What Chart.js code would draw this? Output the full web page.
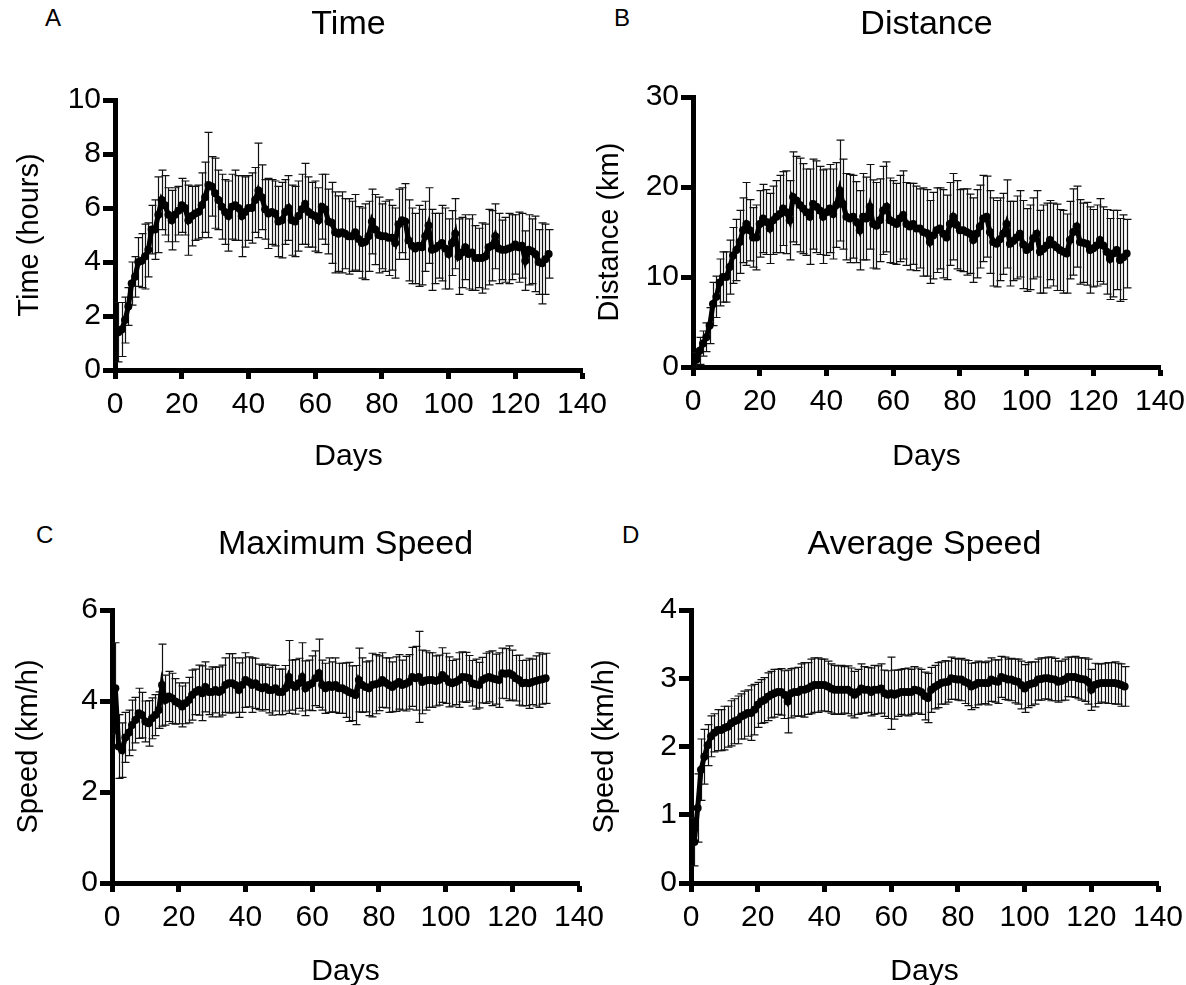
<!DOCTYPE html>
<html>
<head>
<meta charset="utf-8">
<script src="https://cdn.jsdelivr.net/npm/chart.js@4.4.1/dist/chart.umd.min.js"></script>
<style>
  html, body { margin: 0; padding: 0; background: #fff; overflow: hidden; }
  body { width: 1186px; height: 985px; position: relative; font-family: 'Liberation Sans', Arial, sans-serif; }
  canvas { position: absolute; }
  .letter { position: absolute; font-size: 24px; line-height: 1; color: #000; }
</style>
</head>
<body>
<div class="letter" style="left:45px;top:6px">A</div>
<div class="letter" style="left:614px;top:6px">B</div>
<div class="letter" style="left:36px;top:523px">C</div>
<div class="letter" style="left:622px;top:523px">D</div>
<canvas id="chartA" width="622" height="490" style="left:0;top:0"></canvas>
<canvas id="chartB" width="620" height="490" style="left:580px;top:0"></canvas>
<canvas id="chartC" width="622" height="500" style="left:0;top:500px"></canvas>
<canvas id="chartD" width="620" height="500" style="left:580px;top:500px"></canvas>
<script>
// daily means and SDs, days 1..130
const timeMean = [
  1.4,1.5,1.85,2.35,3.2,3.45,4.0,4.05,4.2,4.45,
  5.2,5.2,5.75,6.3,6.1,5.75,5.55,5.75,5.9,6.1,
  6.0,5.55,5.7,5.8,5.85,6.1,6.4,6.85,6.8,6.55,
  6.3,6.05,5.85,5.7,6.05,6.1,6.0,5.7,5.85,6.0,
  6.0,6.3,6.65,6.4,5.95,5.8,5.85,5.8,5.5,5.55,
  5.85,6.0,5.55,5.5,5.7,5.95,6.15,5.85,5.75,5.7,
  5.55,6.05,5.95,5.5,5.45,5.1,5.05,5.1,5.05,4.95,
  4.95,5.1,4.85,4.7,4.75,4.95,5.5,5.2,5.0,4.95,
  4.95,4.9,4.9,4.7,5.4,5.55,5.5,4.8,4.6,4.5,
  4.6,4.55,4.95,5.35,4.45,4.5,4.6,4.7,4.5,4.3,
  4.7,5.05,4.2,4.35,4.55,4.3,4.35,4.15,4.15,4.15,
  4.2,4.55,4.6,4.95,4.5,4.45,4.45,4.5,4.55,4.65,
  4.55,4.6,4.05,4.45,4.4,4.3,4.0,3.95,4.1,4.3
];
const timeSd = [
  1.1,1.0,0.85,0.7,0.8,0.75,0.9,1.0,1.2,1.0,
  0.9,1.1,1.4,1.1,1.1,1.0,1.1,1.0,0.9,1.0,
  1.0,1.3,1.1,1.0,1.0,1.2,1.3,1.95,1.1,1.3,
  1.1,1.2,1.2,1.3,1.2,1.3,1.2,1.5,1.3,1.2,
  1.3,1.2,1.75,1.2,1.1,1.3,1.2,1.2,1.3,1.4,
  1.2,1.2,1.3,1.3,1.3,1.3,1.5,1.3,1.2,1.3,
  1.2,1.2,1.3,1.2,1.5,1.5,1.4,1.5,1.3,1.4,
  1.3,1.4,1.2,1.3,1.4,1.3,1.2,1.3,1.4,1.2,
  1.3,1.4,1.2,1.3,1.3,1.2,1.4,1.5,1.4,1.3,
  1.5,1.4,1.3,1.4,1.5,1.3,1.2,1.4,1.5,1.3,
  1.2,1.3,1.4,1.3,1.2,1.3,1.4,1.2,1.1,1.3,
  1.2,1.4,1.3,1.2,1.3,1.1,1.2,1.3,1.2,1.1,
  1.3,1.2,1.1,1.3,1.2,1.4,1.2,1.5,1.3,0.9
];
const distMean = [
  0.8,1.8,2.6,3.3,4.6,7.0,7.8,9.4,10.0,10.0,
  11.1,12.4,13.0,13.9,15.2,15.9,15.2,14.4,14.4,15.9,
  16.5,16.1,15.4,16.3,16.7,17.0,17.6,17.2,16.3,18.9,
  18.5,18.0,17.6,17.2,16.7,18.1,17.8,17.4,16.7,17.2,
  17.6,17.0,18.0,19.6,18.1,16.7,16.5,16.7,16.1,15.2,
  16.7,16.5,17.8,15.9,15.7,16.3,17.4,17.8,16.3,16.1,
  15.9,16.5,16.9,15.9,15.6,15.9,15.4,15.4,15.0,14.9,
  13.9,14.6,15.2,15.4,14.8,14.4,15.9,16.7,15.8,15.2,
  15.2,15.0,14.8,14.1,14.8,15.6,16.5,16.7,15.0,13.9,
  13.7,14.2,14.8,15.9,13.7,14.0,14.4,14.8,13.6,13.0,
  13.3,14.3,14.8,12.8,13.1,13.5,14.1,13.6,13.3,13.0,
  12.8,12.6,14.1,15.0,15.6,13.9,13.8,13.7,13.0,13.2,
  13.5,14.1,13.5,12.8,12.0,12.6,13.0,11.9,12.2,12.6
];
const distSd = [
  0.8,1.5,1.4,1.6,2.0,2.4,2.3,2.6,2.8,2.8,
  3.0,3.1,3.4,3.5,3.6,4.6,3.4,3.3,3.6,3.7,
  3.8,3.6,3.9,3.8,4.0,4.3,4.1,4.6,4.4,5.0,
  4.9,5.2,5.0,4.8,5.3,5.0,5.1,4.9,5.2,4.8,
  4.9,5.0,4.7,5.6,5.0,4.8,4.9,4.6,4.5,4.4,
  4.8,4.6,4.7,4.9,4.8,4.6,4.9,5.0,4.7,4.6,
  4.5,4.8,4.9,4.6,4.8,4.5,4.7,4.4,4.9,4.8,
  4.6,4.8,4.7,4.5,4.9,4.7,4.6,4.8,4.9,4.5,
  4.6,4.8,4.4,4.7,4.9,4.6,4.8,4.5,4.6,4.9,
  4.8,4.6,4.5,4.9,4.7,4.4,4.6,4.8,4.9,4.6,
  4.7,4.5,4.8,4.6,4.9,4.7,4.4,4.6,4.8,4.5,
  4.6,4.4,4.3,4.8,4.5,4.7,4.4,4.6,4.8,4.3,
  4.5,4.6,4.3,4.7,4.5,4.8,4.4,4.6,4.7,3.8
];
const maxSpeedMean = [
  4.28,3.0,2.92,3.2,3.3,3.47,3.58,3.73,3.69,3.55,
  3.51,3.62,3.69,3.8,4.35,4.02,4.1,4.06,3.99,3.95,
  3.88,3.95,4.02,4.13,4.2,4.24,4.17,4.31,4.2,4.2,
  4.24,4.2,4.24,4.35,4.39,4.39,4.35,4.24,4.35,4.46,
  4.42,4.35,4.39,4.31,4.28,4.31,4.24,4.24,4.28,4.2,
  4.2,4.28,4.53,4.35,4.31,4.39,4.53,4.28,4.35,4.39,
  4.5,4.61,4.35,4.28,4.35,4.31,4.35,4.28,4.28,4.24,
  4.2,4.17,4.13,4.46,4.35,4.31,4.28,4.35,4.37,4.39,
  4.46,4.4,4.35,4.31,4.37,4.42,4.35,4.38,4.42,4.53,
  4.5,4.53,4.42,4.45,4.46,4.46,4.44,4.46,4.57,4.5,
  4.42,4.39,4.42,4.46,4.53,4.52,4.5,4.39,4.37,4.35,
  4.46,4.5,4.53,4.5,4.48,4.46,4.61,4.6,4.61,4.57,
  4.5,4.46,4.39,4.4,4.39,4.42,4.44,4.46,4.48,4.5
];
const maxSpeedSd = [
  1.0,0.7,0.6,0.55,0.5,0.55,0.5,0.55,0.5,0.45,
  0.5,0.45,0.45,0.4,0.9,0.55,0.55,0.55,0.5,0.45,
  0.45,0.45,0.5,0.55,0.5,0.55,0.6,0.55,0.5,0.55,
  0.5,0.55,0.55,0.6,0.65,0.65,0.6,0.6,0.6,0.6,
  0.55,0.6,0.55,0.5,0.5,0.5,0.5,0.55,0.5,0.5,
  0.5,0.5,0.8,0.55,0.6,0.55,0.75,0.6,0.55,0.6,
  0.6,0.75,0.55,0.55,0.6,0.55,0.6,0.55,0.55,0.6,
  0.65,0.6,0.65,0.7,0.6,0.55,0.6,0.7,0.65,0.6,
  0.6,0.55,0.6,0.55,0.6,0.6,0.55,0.6,0.6,0.65,
  0.7,1.0,0.7,0.65,0.6,0.6,0.55,0.55,0.6,0.55,
  0.55,0.5,0.5,0.6,0.55,0.55,0.5,0.5,0.55,0.5,
  0.5,0.55,0.55,0.6,0.55,0.6,0.55,0.55,0.6,0.55,
  0.5,0.55,0.5,0.5,0.55,0.5,0.55,0.6,0.55,0.55
];
const avgSpeedMean = [
  0.6,1.1,1.66,1.85,2.02,2.15,2.2,2.24,2.24,2.27,
  2.29,2.34,2.37,2.39,2.44,2.46,2.49,2.49,2.54,2.61,
  2.66,2.68,2.73,2.76,2.78,2.8,2.8,2.76,2.66,2.78,
  2.8,2.8,2.83,2.83,2.85,2.88,2.9,2.9,2.9,2.9,
  2.88,2.85,2.83,2.83,2.83,2.83,2.83,2.8,2.76,2.8,
  2.85,2.83,2.83,2.8,2.83,2.83,2.85,2.78,2.76,2.78,
  2.76,2.78,2.8,2.8,2.8,2.8,2.83,2.82,2.8,2.74,
  2.71,2.83,2.87,2.9,2.93,2.94,2.95,3.0,2.99,2.98,
  2.98,2.95,2.93,2.88,2.9,2.93,2.93,2.93,2.93,2.98,
  2.96,2.95,3.02,3.0,2.98,2.98,2.96,2.95,2.9,2.85,
  2.9,2.92,2.93,2.98,2.99,3.0,3.0,2.99,2.98,2.95,
  2.96,2.98,3.02,3.02,3.02,3.0,2.99,2.98,2.95,2.83,
  2.9,2.92,2.93,2.93,2.93,2.93,2.93,2.92,2.9,2.88
];
const avgSpeedSd = [
  0.35,0.5,0.45,0.4,0.3,0.3,0.28,0.3,0.3,0.32,
  0.3,0.33,0.33,0.35,0.33,0.35,0.34,0.4,0.37,0.33,
  0.32,0.33,0.35,0.34,0.35,0.33,0.34,0.35,0.46,0.36,
  0.35,0.36,0.38,0.4,0.38,0.4,0.4,0.4,0.38,0.38,
  0.37,0.36,0.36,0.35,0.36,0.34,0.35,0.35,0.34,0.33,
  0.36,0.34,0.33,0.35,0.36,0.35,0.36,0.34,0.35,0.53,
  0.36,0.34,0.33,0.34,0.35,0.33,0.34,0.33,0.33,0.35,
  0.36,0.33,0.32,0.33,0.31,0.32,0.3,0.31,0.3,0.3,
  0.31,0.32,0.33,0.34,0.33,0.32,0.31,0.3,0.32,0.32,
  0.31,0.32,0.3,0.31,0.3,0.31,0.32,0.33,0.35,0.35,
  0.33,0.32,0.31,0.3,0.31,0.3,0.31,0.32,0.31,0.3,
  0.29,0.3,0.29,0.29,0.3,0.3,0.31,0.32,0.33,0.3,
  0.32,0.29,0.28,0.29,0.3,0.3,0.31,0.3,0.31,0.29
];
const days = timeMean.map((_, i) => i + 1);

const FONT = "'Liberation Sans', Arial, sans-serif";
Chart.defaults.font.family = FONT;
Chart.defaults.color = '#000';

// mean +/- SD bars with caps, drawn under the line
const errorBars = {
  id: 'errorBars',
  beforeDatasetsDraw(chart) {
    const { ctx } = chart;
    const y = chart.scales.y;
    const ds = chart.data.datasets[0];
    const meta = chart.getDatasetMeta(0);
    ctx.save();
    ctx.strokeStyle = '#111';
    ctx.lineWidth = 1.2;
    meta.data.forEach((pt, i) => {
      const v = ds.data[i].y, e = ds.sd[i];
      const top = y.getPixelForValue(v + e);
      const bot = y.getPixelForValue(v - e);
      const x = Math.round(pt.x) + 0.5;
      ctx.beginPath();
      ctx.moveTo(x, top); ctx.lineTo(x, bot);
      ctx.moveTo(x - 4, top); ctx.lineTo(x + 4, top);
      ctx.moveTo(x - 4, bot); ctx.lineTo(x + 4, bot);
      ctx.stroke();
    });
    ctx.restore();
  }
};

const axisGrid = (len) => ({
  display: true, drawOnChartArea: false, drawTicks: true,
  tickLength: len, tickWidth: 5, color: '#000'
});

const makeChart = (id, c) => {
  const ctx = document.getElementById(id).getContext('2d');
  return new Chart(ctx, {
    type: 'line',
    data: {
      datasets: [{
        data: days.map((d, i) => ({ x: d, y: c.mean[i] })),
        sd: c.sd,
        borderColor: '#000',
        backgroundColor: '#000',
        borderWidth: 5,
        pointRadius: 4,
        pointBorderWidth: 0,
        tension: 0
      }]
    },
    options: {
      responsive: false,
      animation: false,
      layout: { padding: { top: 0, left: 0, bottom: 0, right: c.padRight } },
      plugins: {
        legend: { display: false },
        tooltip: { enabled: false },
        title: {
          display: true, text: c.title, fullSize: false, color: '#000',
          font: { size: 34, weight: 'normal' },
          padding: { top: c.titleTop, bottom: c.titleBottom }
        }
      },
      scales: {
        x: {
          type: 'linear', min: 0, max: 140,
          border: { display: true, color: '#000', width: 5 },
          grid: axisGrid(9),
          ticks: { stepSize: 20, color: '#000', font: { size: 30 }, padding: 8, maxRotation: 0, autoSkip: false },
          title: { display: true, text: 'Days', color: '#000', font: { size: 30 }, padding: { top: 0, bottom: c.daysPad } },
          afterFit: s => { s.height = c.xHeight; }
        },
        y: {
          min: 0, max: c.yMax,
          border: { display: true, color: '#000', width: 5 },
          grid: axisGrid(12),
          ticks: { stepSize: c.yStep, color: '#000', font: { size: 30 }, padding: 2 },
          title: { display: true, text: c.yTitle, color: '#000', font: { size: 29 }, padding: { top: c.yTitlePad, bottom: 0 } },
          afterFit: s => { s.width = c.yWidth; }
        }
      }
    },
    plugins: [errorBars]
  });
};

makeChart('chartA', {
  mean: timeMean, sd: timeSd, title: 'Time', yTitle: 'Time (hours)', yMax: 10, yStep: 2,
  padRight: 40, yWidth: 115, xHeight: 120, titleTop: 4.6, titleBottom: 54.6, daysPad: 15, yTitlePad: 12.6
});
makeChart('chartB', {
  mean: distMean, sd: distSd, title: 'Distance', yTitle: 'Distance (km)', yMax: 30, yStep: 10,
  padRight: 40, yWidth: 113, xHeight: 123, titleTop: 4.6, titleBottom: 51.6, daysPad: 15, yTitlePad: 12.6
});
makeChart('chartC', {
  mean: maxSpeedMean, sd: maxSpeedSd, title: 'Maximum Speed', yTitle: 'Speed (km/h)', yMax: 6, yStep: 2,
  padRight: 43, yWidth: 112, xHeight: 117, titleTop: 24.6, titleBottom: 44.6, daysPad: 10, yTitlePad: 11.6
});
makeChart('chartD', {
  mean: avgSpeedMean, sd: avgSpeedSd, title: 'Average Speed', yTitle: 'Speed (km/h)', yMax: 4, yStep: 1,
  padRight: 42, yWidth: 111, xHeight: 117, titleTop: 24.6, titleBottom: 44.6, daysPad: 10, yTitlePad: 7.6
});
</script>
</body>
</html>
